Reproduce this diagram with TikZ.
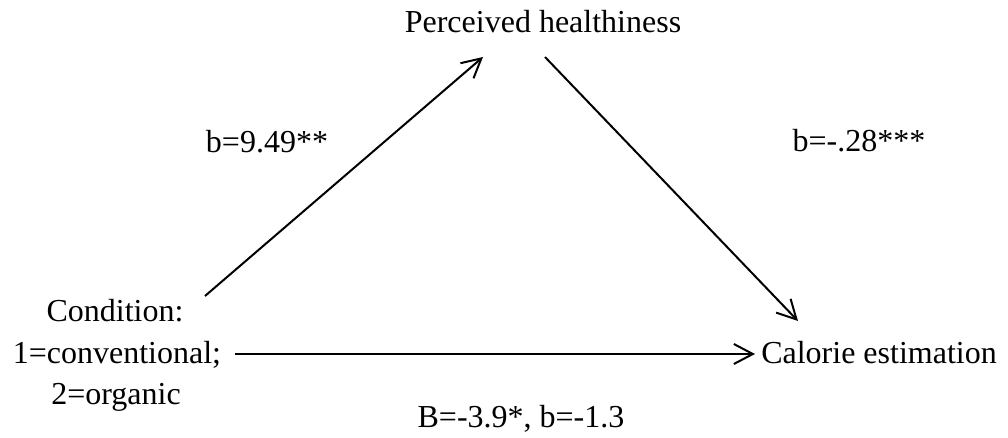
\documentclass[tikz,border=0pt]{standalone}
\usepackage{fontspec}
\setmainfont{Liberation Serif}
\usetikzlibrary{arrows.meta}
\begin{document}
\begin{tikzpicture}[x=0.5pt,y=-0.5pt,
  lbl/.style={font=\fontsize{16}{21}\selectfont, inner sep=0pt, anchor=base},
  conn/.style={line width=1pt, -{Straight Barb[length=9.5pt,width=10pt,line width=1pt]}}]
\useasboundingbox (0,0) rectangle (1008,438);
\node[lbl] (perc) at (543,33) {Perceived healthiness};
\node[lbl] (cal) at (879,364) {Calorie estimation};
\node[lbl] (cond1) at (115,322) {Condition:};
\node[lbl] (cond2) at (117,364) {1=conventional;};
\node[lbl] (cond3) at (116,405) {2=organic};
\node[lbl] (la) at (267,153) {b=9.49**};
\node[lbl] (lb) at (859,152) {b=-.28***};
\node[lbl] (lc) at (521,428) {B=-3.9*, b=-1.3};
\coordinate (aS) at (205,296);
\coordinate (aE) at (483,57);
\coordinate (bS) at (545,57);
\coordinate (bE) at (798,321);
\coordinate (cS) at (235,354);
\coordinate (cE) at (755,354);
\draw[conn] (aS) -- (aE);
\draw[conn] (bS) -- (bE);
\draw[conn] (cS) -- (cE);
\end{tikzpicture}
\end{document}
